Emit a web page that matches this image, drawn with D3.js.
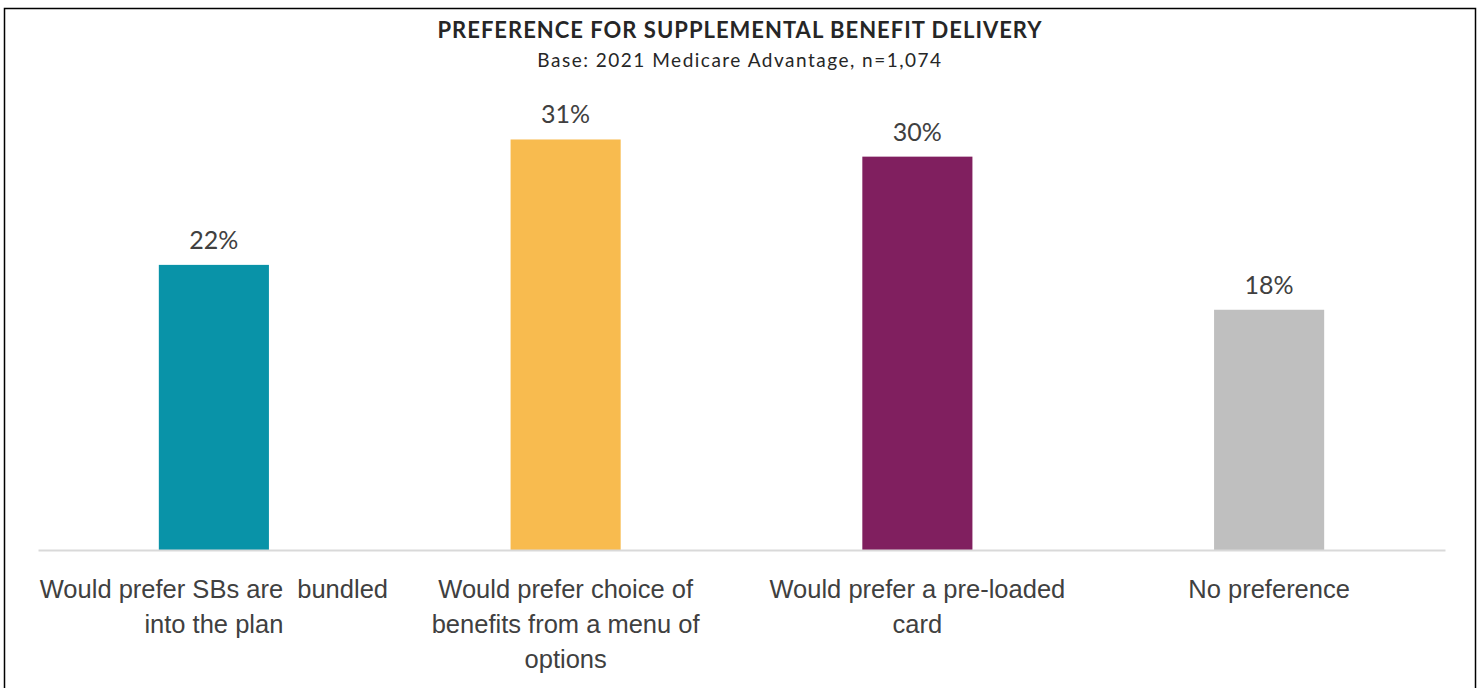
<!DOCTYPE html>
<html>
<head>
<meta charset="utf-8">
<script src="https://cdn.jsdelivr.net/npm/d3@7"></script>
<style>
  body { margin: 0; background: #fff; }
  svg { display: block; font-family: Lato, "Open Sans", sans-serif; }
</style>
</head>
<body>
<svg id="chart"></svg>
<script>
const categories = ["bundled", "menu", "card", "none"];
const categoryLines = [
    ["Would prefer SBs are  bundled", "into the plan"],
    ["Would prefer choice of", "benefits from a menu of", "options"],
    ["Would prefer a pre-loaded", "card"],
    ["No preference"]
];
const values = [21.6, 31.1, 29.8, 18.2];
const colors = ["#0993A8", "#F8BB4F", "#801F5F", "#BFBFBF"];

const width = 1481;
const height = 688;

const svg = d3.select("#chart")
    .attr("width", width)
    .attr("height", height);

// cadre
svg.append("rect")
    .attr("x", 4.5).attr("y", 8.5)
    .attr("width", 1471).attr("height", 700)
    .attr("fill", "none").attr("stroke", "#000").attr("stroke-width", 1.5);

svg.append("text")
    .attr("x", 740).attr("y", 38)
    .attr("text-anchor", "middle")
    .attr("font-size", "22px").attr("font-weight", "bold")
    .attr("letter-spacing", "1px")
    .attr("fill", "#262626")
    .text("PREFERENCE FOR SUPPLEMENTAL BENEFIT DELIVERY");

svg.append("text")
    .attr("x", 740).attr("y", 67)
    .attr("text-anchor", "middle")
    .attr("font-size", "19px")
    .attr("letter-spacing", "1.5px")
    .attr("fill", "#262626")
    .text("Base: 2021 Medicare Advantage, n=1,074");

const x = d3.scaleBand()
    .domain(categories)
    .range([38, 1445])
    .paddingInner(0.687)
    .paddingOuter(0.3435);

const y = d3.scaleLinear()
    .domain([0, 35])
    .range([550, 550 - 35 * 13.2]);

svg.selectAll(".bar")
    .data(values).enter().append("rect").attr("class", "bar")
    .attr("x", (d, i) => x(categories[i]))
    .attr("width", x.bandwidth())
    .attr("y", d => y(d))
    .attr("height", d => y(0) - y(d))
    .attr("fill", (d, i) => colors[i]);

svg.selectAll(".val")
    .data(values).enter().append("text").attr("class", "val")
    .attr("x", (d, i) => x(categories[i]) + x.bandwidth() / 2)
    .attr("y", d => y(d) - 16)
    .attr("text-anchor", "middle")
    .attr("font-size", "25px")
    .attr("fill", "#404040")
    .text(d => Math.round(d) + "%");

// axe du bas
const axis = svg.append("g")
    .attr("transform", `translate(0,${y(0)})`)
    .call(d3.axisBottom(x).tickSize(0).tickFormat(""));
axis.select(".domain").attr("stroke", "#D9D9D9").attr("stroke-width", 2);

axis.selectAll(".tick").each(function (d, i) {
    const t = d3.select(this).append("text")
        .attr("fill", "#404040")
        .attr("font-size", "25.5px")
        .attr("text-anchor", "middle")
        .style("white-space", "pre");
    categoryLines[i].forEach((line, j) => {
        t.append("tspan").attr("x", 0).attr("y", 48 + j * 35).text(line);
    });
});
</script>
</body>
</html>
